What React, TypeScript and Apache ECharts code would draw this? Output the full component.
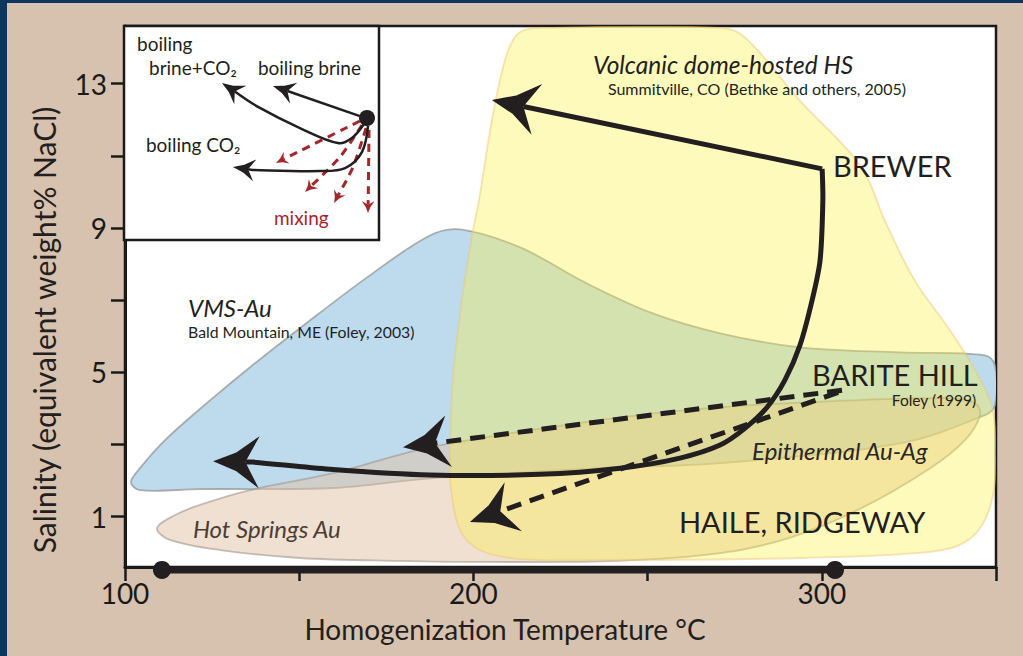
import React, { useEffect, useRef } from "react";
import * as echarts from "echarts";

// ---------- axes ----------
const xTickValues = [100, 150, 200, 250, 300, 350];
const xLabelValues = [100, 200, 300];
const yTickValues = [1, 3, 5, 7, 9, 11, 13];
const yLabelValues = [1, 5, 9, 13];

// ---------- fields (temperature °C, salinity wt% NaCl) ----------
const vmsAuField = [
  [101.7, 1.95], [104.3, 2.34], [111.5, 3.12], [123.8, 4.17], [135.9, 5.14], [150.2, 6.22],
  [169.5, 7.63], [187.5, 8.79], [196.2, 8.96], [213.4, 8.46], [232.6, 7.46], [251.5, 6.63],
  [270.8, 6.08], [293.7, 5.69], [322.4, 5.55], [346.8, 5.47], [349.7, 5.19], [349.7, 4.08],
  [346.8, 3.81], [322.4, 3.03], [270.8, 2.48], [236.3, 2.34], [187.5, 2.06], [159.7, 1.79],
  [121.5, 1.76], [104.3, 1.73],
];
const volcanicHsField = [
  [213.9, 14.46], [220.6, 14.55], [270.8, 14.55], [277.8, 14.3], [293.7, 12.53], [311.3, 10.7],
  [318.1, 9.2], [326.7, 7.54], [336.8, 6.16], [344.0, 5.05], [349.1, 3.95], [349.7, 2.01],
  [346.8, 0.9], [341.1, 0.29], [331.1, 0.02], [293.7, -0.15], [236.3, -0.21], [213.4, -0.18],
  [201.9, 0.07], [196.2, 0.62], [193.6, 1.73], [193.3, 2.56], [194.1, 4.78], [196.7, 6.99],
  [199.9, 8.93], [201.6, 9.76], [204.8, 11.7], [207.6, 13.08], [210.5, 14.05],
];
const hotSpringsField = [
  [109.2, 0.68], [114.4, 1.04], [121.5, 1.32], [135.9, 1.73], [159.7, 2.2], [187.5, 2.92],
  [236.3, 3.67], [270.8, 4.03], [308.1, 4.22], [336.8, 4.28], [344.0, 4.14], [345.4, 3.81],
  [341.1, 3.12], [331.1, 2.34], [311.3, 1.23], [291.4, 0.43], [271.4, -0.01], [241.5, -0.23],
  [201.9, -0.26], [178.9, -0.23], [150.2, -0.15], [127.3, 0.07], [112.9, 0.35],
];

// ---------- fluid paths (last point = arrow tip) ----------
const brewerToVolcanic = [[300.1, 10.64], [205.3, 12.55]];
const brewerToVms = [
  [300.1, 10.64], [300.3, 9.76], [299.5, 8.1], [297.2, 6.99], [293.7, 5.74], [289.4, 4.78],
  [284.3, 4.03], [278.0, 3.45], [270.8, 2.98], [259.3, 2.62], [242.1, 2.34], [219.1, 2.17],
  [187.5, 2.15], [158.8, 2.31], [136.7, 2.51], [125.3, 2.53],
];
const bariteUpper = [[305.8, 4.5], [179.8, 2.92]];
const bariteLower = [[304.7, 4.44], [199.0, 0.85]];
const temperatureRange = [[110.6, -0.48], [303.8, -0.48]];

// ---------- annotations ----------
const fieldLabels = [
  "Volcanic dome-hosted HS",
  "Summitville, CO (Bethke and others, 2005)",
  "BREWER",
  "VMS-Au",
  "Bald Mountain, ME (Foley, 2003)",
  "BARITE HILL",
  "Foley (1999)",
  "Epithermal Au-Ag",
  "Hot Springs Au",
  "HAILE, RIDGEWAY",
];
const fieldLabelAt = [
  [234.3, 13.52], [238.6, 12.86], [303.2, 10.73], [118.1, 6.8], [118.1, 6.13],
  [297.2, 4.94], [344.3, 4.22], [280.0, 2.84], [119.5, 0.68], [259.0, 0.87],
];

// ---------- inset schematic (0–100 units) ----------
const insetSource = [[95.3, 57.0]];
const insetBoilingBrine = [[92.5, 57.9], [58.4, 72.0]];
const insetBoilingBrineCO2 = [[94.1, 54.2], [89.4, 47.7], [83.9, 45.3], [69.0, 52.3], [53.3, 61.7], [38.4, 73.4]];
const insetBoilingCO2 = [[95.7, 53.3], [93.3, 41.1], [86.7, 33.6], [76.9, 32.2], [50.6, 32.7], [42.7, 34.1]];
const insetMixing = [
  [[92.5, 55.6], [59.6, 36.0]],
  [[93.3, 53.7], [84.7, 38.8], [71.0, 22.4]],
  [[94.9, 52.3], [89.8, 34.1], [82.4, 17.3]],
  [[96.1, 51.4], [95.7, 12.6]],
];
const insetLabels = ["boiling", "brine+CO₂", "boiling brine", "boiling CO₂", "mixing"];
const insetLabelAt = [[5.1, 91.6], [9.8, 80.4], [52.5, 80.4], [8.6, 44.4], [58.8, 10.3]];

const FONT = "Lato, 'Open Sans', sans-serif";
const INK = "#231f20";
const RED = "#a3262b";

function headShape(tip: number[], prev: number[], L: number, W: number) {
  const dx = tip[0] - prev[0];
  const dy = tip[1] - prev[1];
  const d = Math.hypot(dx, dy) || 1;
  const ux = dx / d, uy = dy / d, nx = -uy, ny = ux;
  const bx = tip[0] - ux * L, by = tip[1] - uy * L;
  const b1 = [bx + (nx * W) / 2, by + (ny * W) / 2];
  const b2 = [bx - (nx * W) / 2, by - (ny * W) / 2];
  const notch = [tip[0] - ux * L * 0.7, tip[1] - uy * L * 0.7];
  const m1 = [(tip[0] + b1[0]) / 2 - nx * W * 0.07, (tip[1] + b1[1]) / 2 - ny * W * 0.07];
  const m2 = [(tip[0] + b2[0]) / 2 + nx * W * 0.07, (tip[1] + b2[1]) / 2 + ny * W * 0.07];
  return { pts: [tip, m1, b1, notch, b2, m2], notch };
}

function pathSeries(pts: number[][], o: any) {
  const grid = o.grid || 0;
  return {
    type: "custom",
    xAxisIndex: grid,
    yAxisIndex: grid,
    z: o.z || 6,
    silent: true,
    clip: false,
    data: pts,
    renderItem: (params: any, api: any) => {
      if (params.dataIndex !== 0) return null;
      const p = pts.map((q) => api.coord(q));
      const children: any[] = [];
      let line = p;
      if (o.head) {
        const h = headShape(p[p.length - 1], p[p.length - 2], o.head[0], o.head[1]);
        line = p.slice(0, -1).concat([h.notch]);
        children.push({ type: "polygon", shape: { points: h.pts }, style: { fill: o.color } });
      }
      const ls: any = { stroke: o.color, lineWidth: o.width, lineCap: "butt", lineJoin: "round", fill: null };
      if (o.dash) ls.lineDash = o.dash;
      children.unshift({ type: "polyline", shape: { points: line, smooth: o.smooth || 0 }, style: ls });
      if (o.dots) {
        [p[0], p[p.length - 1]].forEach((q) =>
          children.push({ type: "circle", shape: { cx: q[0], cy: q[1], r: o.dots }, style: { fill: o.color } })
        );
      }
      return { type: "group", children };
    },
  };
}

function fieldSeries(pts: number[][], fill: string, stroke: string, z: number) {
  return {
    type: "custom",
    xAxisIndex: 0,
    yAxisIndex: 0,
    z,
    silent: true,
    clip: true,
    data: pts,
    renderItem: (params: any, api: any) => {
      if (params.dataIndex !== 0) return null;
      return {
        type: "polygon",
        shape: { points: pts.map((q) => api.coord(q)), smooth: 0.35 },
        style: { fill, stroke, lineWidth: 1.8 },
      };
    },
  };
}

function labelSeries(texts: string[], at: number[][], styles: any[], grid: number, z: number) {
  return {
    type: "custom",
    xAxisIndex: grid,
    yAxisIndex: grid,
    z,
    silent: true,
    clip: false,
    data: at,
    renderItem: (params: any, api: any) => {
      const i = params.dataIndex;
      const c = api.coord(at[i]);
      const s = styles[i];
      return {
        type: "text",
        x: c[0],
        y: c[1],
        style: {
          text: texts[i],
          fill: s.color || INK,
          fontSize: s.size,
          fontFamily: FONT,
          fontStyle: s.italic ? "italic" : "normal",
          align: s.align || "left",
          verticalAlign: "middle",
        },
      };
    },
  };
}

export default function App() {
  const ref = useRef<HTMLDivElement>(null);
  useEffect(() => {
    const chart = echarts.init(ref.current!, null, { renderer: "svg" });
    const fieldLabelStyles = [
      { size: 24.5, italic: true },
      { size: 16 },
      { size: 29 },
      { size: 24, italic: true },
      { size: 15.8 },
      { size: 29 },
      { size: 15.5, align: "right" },
      { size: 24, italic: true, color: "#2b2626" },
      { size: 24, italic: true, color: "#4a3d36" },
      { size: 29 },
    ];
    const insetStyles = [
      { size: 19 }, { size: 19 }, { size: 19 }, { size: 19 }, { size: 19, color: RED },
    ];
    const series: any[] = [
      fieldSeries(vmsAuField, "#bddbec", "rgba(150,150,150,0.75)", 1),
      fieldSeries(hotSpringsField, "rgba(225,193,165,0.5)", "rgba(160,150,140,0.6)", 2),
      fieldSeries(volcanicHsField, "rgba(252,241,64,0.35)", "rgba(240,200,120,0.5)", 3),
      pathSeries(brewerToVolcanic, { color: INK, width: 5, head: [46, 52] }),
      pathSeries(brewerToVms, { color: INK, width: 5, smooth: 0.3, head: [46, 52] }),
      pathSeries(bariteUpper, { color: INK, width: 5, dash: [15, 9], head: [46, 52] }),
      pathSeries(bariteLower, { color: INK, width: 5, dash: [15, 9], head: [46, 52] }),
      pathSeries(temperatureRange, { color: INK, width: 7, dots: 9, z: 8 }),
      labelSeries(fieldLabels, fieldLabelAt, fieldLabelStyles, 0, 9),
      // inset
      pathSeries(insetBoilingBrine, { grid: 1, color: INK, width: 2.5, head: [22, 22], z: 11 }),
      pathSeries(insetBoilingBrineCO2, { grid: 1, color: INK, width: 2.5, smooth: 0.35, head: [22, 22], z: 11 }),
      pathSeries(insetBoilingCO2, { grid: 1, color: INK, width: 2.5, smooth: 0.35, head: [22, 22], z: 11 }),
      ...insetMixing.map((m) =>
        pathSeries(m, { grid: 1, color: RED, width: 3, dash: [8, 6], smooth: 0.3, head: [12, 13], z: 10 })
      ),
      {
        type: "custom",
        xAxisIndex: 1,
        yAxisIndex: 1,
        z: 12,
        silent: true,
        data: insetSource,
        renderItem: (params: any, api: any) => {
          const c = api.coord(insetSource[params.dataIndex]);
          return { type: "circle", shape: { cx: c[0], cy: c[1], r: 8 }, style: { fill: INK } };
        },
      },
      labelSeries(insetLabels, insetLabelAt, insetStyles, 1, 12),
    ];

    chart.setOption({
      animation: false,
      backgroundColor: "#d6c2ae",
      textStyle: { fontFamily: FONT },
      grid: [
        { left: 125, top: 26, width: 871, height: 541, show: true, backgroundColor: "#ffffff", borderColor: "#1a1a1a", borderWidth: 2.5, z: 0 },
        { left: 124, top: 26, width: 255, height: 214, show: true, backgroundColor: "#ffffff", borderColor: "#1a1a1a", borderWidth: 2.5, z: 1 },
      ],
      xAxis: [
        {
          gridIndex: 0, type: "value", min: 100, max: 350, interval: 50,
          axisLine: { show: true, onZero: false, lineStyle: { color: "#1a1a1a", width: 3 } },
          axisTick: { show: true, length: 14, customValues: xTickValues, lineStyle: { color: "#1a1a1a", width: 2.5 } },
          axisLabel: { customValues: xLabelValues, fontSize: 28, color: "#1a1a1a", margin: 12, fontFamily: FONT },
          splitLine: { show: false },
        },
        { gridIndex: 1, type: "value", min: 0, max: 100, show: false },
      ],
      yAxis: [
        {
          gridIndex: 0, type: "value", min: -0.4, max: 14.6,
          axisLine: { show: true, onZero: false, lineStyle: { color: "#1a1a1a", width: 3 } },
          axisTick: { show: true, length: 14, customValues: yTickValues, lineStyle: { color: "#1a1a1a", width: 2.5 } },
          axisLabel: { customValues: yLabelValues, fontSize: 28, color: "#1a1a1a", margin: 18, fontFamily: FONT },
          splitLine: { show: false },
        },
        { gridIndex: 1, type: "value", min: 0, max: 100, show: false },
      ],
      graphic: [
        { type: "rect", z: 100, shape: { x: 0, y: 0, width: 7, height: 656 }, style: { fill: "#0c355f" } },
        { type: "rect", z: 100, shape: { x: 0, y: 0, width: 1023, height: 3 }, style: { fill: "#0c355f" } },
        {
          type: "text", x: 505, y: 629,
          style: { text: "Homogenization Temperature °C", fontSize: 28, fontFamily: FONT, fill: INK, align: "center", verticalAlign: "middle" },
        },
        {
          type: "text", x: 44, y: 330, rotation: Math.PI / 2,
          style: { text: "Salinity (equivalent weight% NaCl)", fontSize: 30, fontFamily: FONT, fill: INK, align: "center", verticalAlign: "middle" },
        },
      ],
      series,
    });
    return () => chart.dispose();
  }, []);
  return <div ref={ref} style={{ position: "fixed", left: 0, top: 0, width: 1023, height: 656 }} />;
}
